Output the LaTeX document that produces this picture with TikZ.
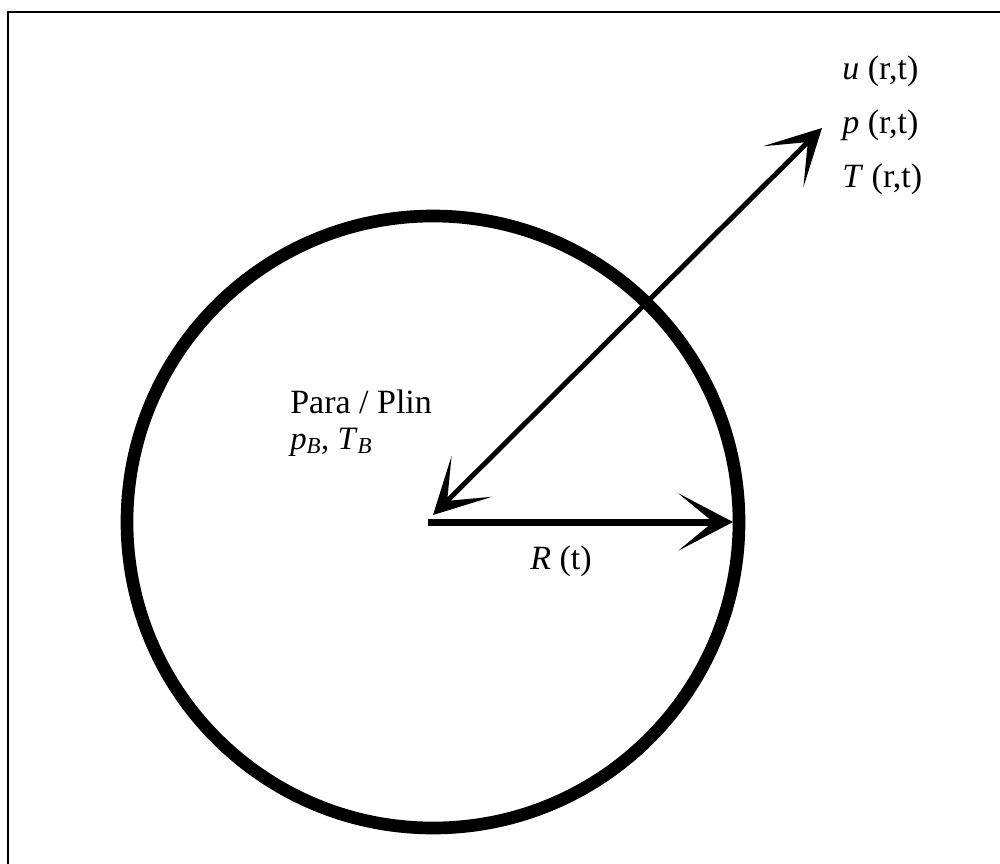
\documentclass[tikz,border=0pt]{standalone}
\usepackage{fontspec}
\setmainfont{Liberation Serif}
\usetikzlibrary{arrows.meta}
\begin{document}
\begin{tikzpicture}[x=0.75pt,y=-0.75pt,
  lbl/.style={anchor=base west, inner sep=0pt, font=\fontsize{25.5}{30}\selectfont},
  lbltwo/.style={anchor=base west, inner sep=0pt, font=\fontsize{24.5}{29}\selectfont},
  headtip/.tip={Stealth[length=41pt,width=43pt,inset=26pt]},
  frameline/.style={line width=1.5pt},
  bubble/.style={line width=9.5pt},
  radiusarrow/.style={line width=5.25pt, -headtip},
  fieldarrow/.style={line width=3.7pt, headtip-headtip}]
\useasboundingbox (0,0) rectangle (1000,864);
% frame (top and left edges)
\coordinate (FL) at (8,864);
\coordinate (FC) at (8,12);
\coordinate (FR) at (1000,12);
\draw[frameline] (FL) -- (FC) -- (FR);
% bubble
\coordinate (C) at (433,522);
\draw[bubble] (C) circle[radius=229.5pt];
% radius arrow
\coordinate (O) at (428,522);
\coordinate (E) at (733,522);
\draw[radiusarrow] (O) -- (E);
% field arrow
\coordinate (A) at (433,515);
\coordinate (B) at (822,128);
\draw[fieldarrow] (A) -- (B);
% labels
\node[lbl] (lu) at (842,79) {\textit{u} (r,t)};
\node[lbl] (lp) at (842,133) {\textit{p} (r,t)};
\node[lbl] (lT) at (842,187) {\textit{T} (r,t)};
\node[lbl] (gas) at (290,413) {Para / Plin};
\node[lbltwo] (gasvars) at (290,449) {\textit{p}\textsubscript{\textit{B}}, \textit{T}\textsubscript{\textit{B}}};
\node[lbl] (lR) at (530,569) {\textit{R} (t)};
\end{tikzpicture}
\end{document}
